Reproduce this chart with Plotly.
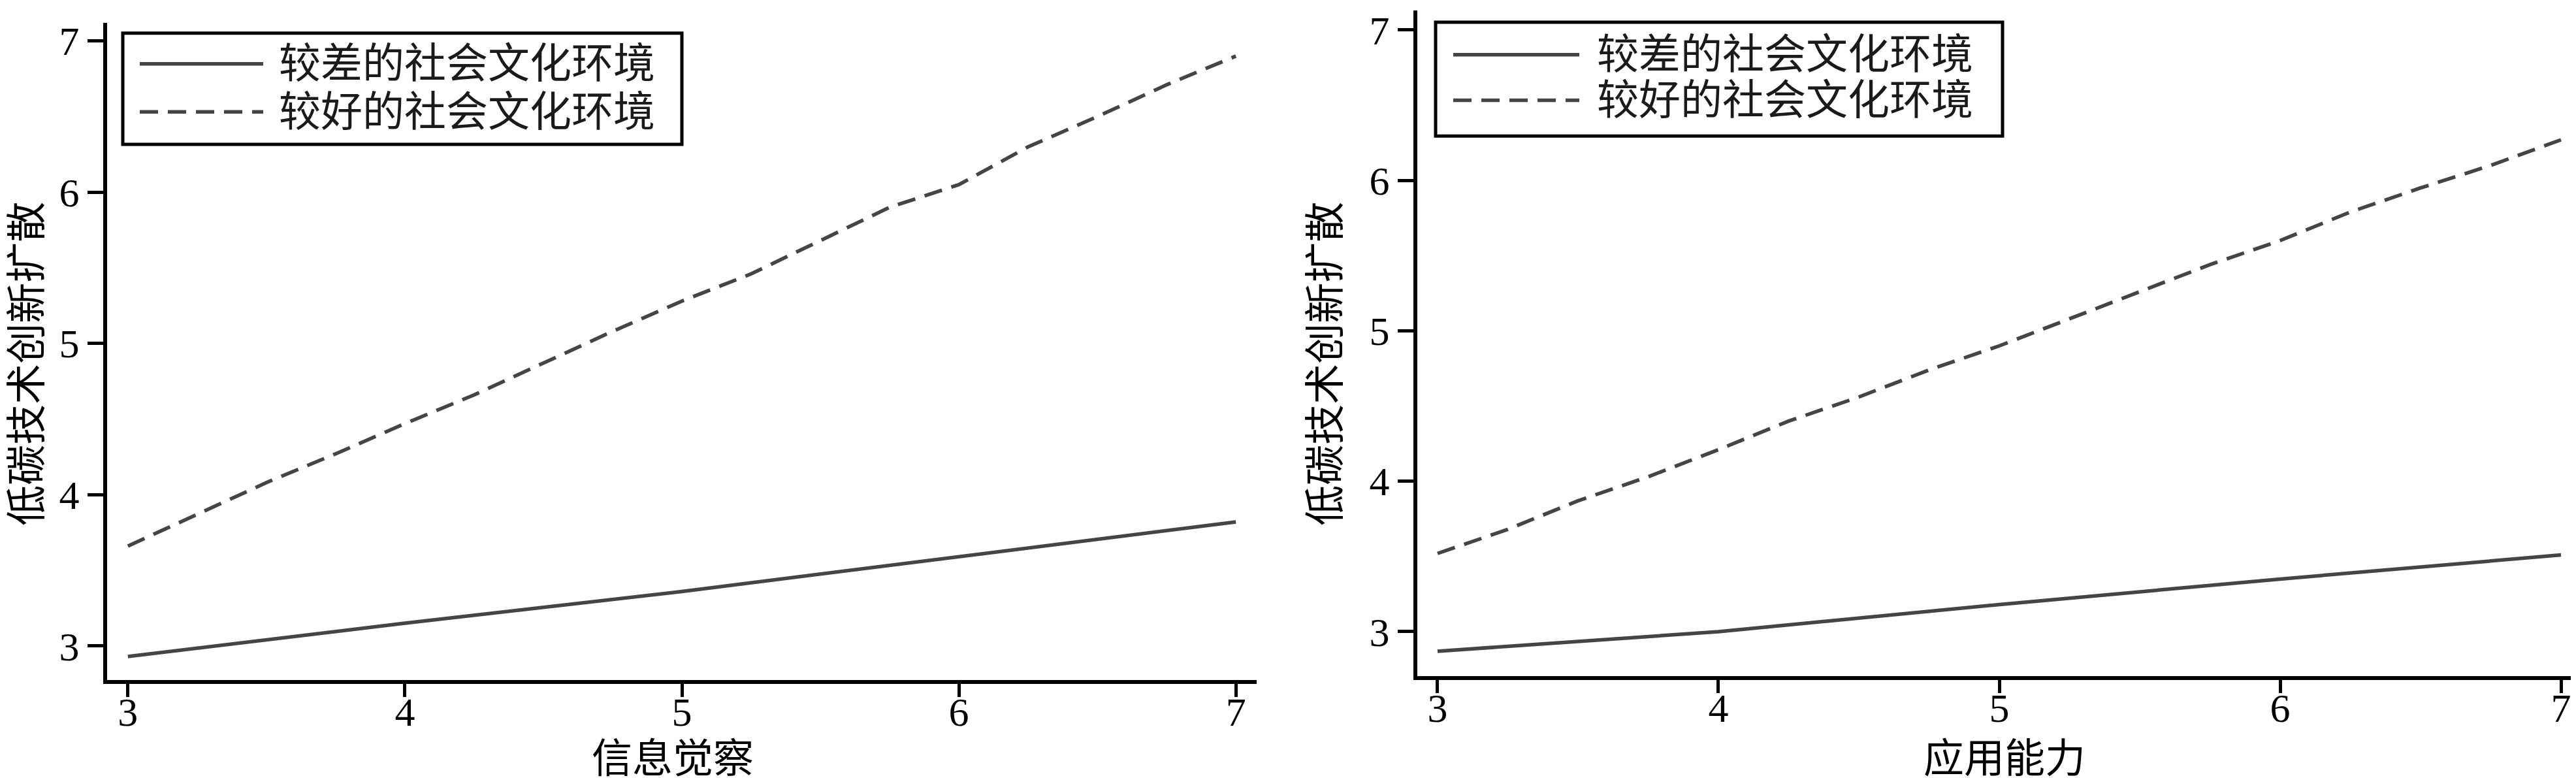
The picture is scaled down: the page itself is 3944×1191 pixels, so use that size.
import plotly.graph_objects as go

# ---- data ----
x_vals = [3.0, 3.25, 3.5, 3.75, 4.0, 4.25, 4.5, 4.75, 5.0, 5.25, 5.5, 5.75, 6.0, 6.25, 6.5, 6.75, 7.0]

# left panel: 信息觉察
left_poor_x = [3, 4, 5, 6, 7]
left_poor_y = [2.93, 3.15, 3.36, 3.59, 3.82]
left_good_y = [3.66, 3.87, 4.08, 4.27, 4.47, 4.66, 4.87, 5.08, 5.28, 5.46, 5.68, 5.90, 6.05, 6.30, 6.50, 6.71, 6.90]

# right panel: 应用能力
right_poor_x = [3, 4, 5, 6, 7]
right_poor_y = [2.87, 3.00, 3.18, 3.35, 3.51]
right_good_y = [3.52, 3.68, 3.87, 4.03, 4.21, 4.40, 4.56, 4.74, 4.90, 5.08, 5.26, 5.44, 5.60, 5.79, 5.95, 6.10, 6.27]

series_names = ["较差的社会文化环境", "较好的社会文化环境"]
x_titles = ["信息觉察", "应用能力"]
y_title = "低碳技术创新扩散"
tick_vals = [3, 4, 5, 6, 7]

W, H = 3944, 1191
FONT = "Liberation Serif, Noto Sans CJK SC, serif"
LINE_COLOR = "#454545"
LW = 5.5
DASH = "28px,15px"
DASHES = ["solid", DASH]


def px_x(p):
    return p / W


def px_y(p):
    return (H - p) / H


fig = go.Figure()

fig.add_trace(go.Scatter(x=left_poor_x, y=left_poor_y, mode="lines", name=series_names[0],
                         line=dict(color=LINE_COLOR, width=LW), xaxis="x", yaxis="y", showlegend=False))
fig.add_trace(go.Scatter(x=x_vals, y=left_good_y, mode="lines", name=series_names[1],
                         line=dict(color=LINE_COLOR, width=LW, dash=DASH), xaxis="x", yaxis="y", showlegend=False))
fig.add_trace(go.Scatter(x=right_poor_x, y=right_poor_y, mode="lines", name=series_names[0],
                         line=dict(color=LINE_COLOR, width=LW), xaxis="x2", yaxis="y2", showlegend=False))
fig.add_trace(go.Scatter(x=x_vals, y=right_good_y, mode="lines", name=series_names[1],
                         line=dict(color=LINE_COLOR, width=LW, dash=DASH), xaxis="x2", yaxis="y2", showlegend=False))

common_x = dict(tickmode="array", tickvals=tick_vals, ticks="outside", ticklen=20, tickwidth=5,
                tickcolor="black", showline=True, linewidth=6, linecolor="black", showgrid=False,
                zeroline=False, ticklabelstandoff=-30,
                tickfont=dict(family=FONT, size=62, color="black"))
common_y = dict(tickmode="array", tickvals=tick_vals, ticks="outside", ticklen=24, tickwidth=5,
                tickcolor="black", showline=True, linewidth=6, linecolor="black", showgrid=False,
                zeroline=False, tickangle=0, tickfont=dict(family=FONT, size=62, color="black"))

fig.update_layout(
    width=W, height=H,
    margin=dict(l=0, r=0, t=0, b=0),
    paper_bgcolor="white", plot_bgcolor="white",
    font=dict(family=FONT, color="black"),
    showlegend=False,
    xaxis=dict(domain=[px_x(156), px_x(1916)], range=[2.925, 7.075], anchor="y", **common_x),
    yaxis=dict(domain=[px_y(1032), px_y(22)], range=[2.776, 7.12], anchor="x", **common_y),
    xaxis2=dict(domain=[px_x(2162), 1.0], range=[2.928, 7.072], anchor="y2", **common_x),
    yaxis2=dict(domain=[px_y(1026), px_y(3)], range=[2.706, 7.13], anchor="x2", **common_y),
)

annotations = []
shapes = []

# axis titles
for cx, txt in [(1022, x_titles[0]), (3061, x_titles[1])]:
    annotations.append(dict(x=px_x(cx), y=0.001, xref="paper", yref="paper", text=txt,
                            showarrow=False, xanchor="center", yanchor="bottom",
                            font=dict(family=FONT, size=62, color="black")))
for cx, cy in [(34, 546), (2022, 546)]:
    annotations.append(dict(x=px_x(cx), y=px_y(cy), xref="paper", yref="paper", text=y_title,
                            showarrow=False, xanchor="center", yanchor="middle", textangle=-90,
                            font=dict(family=FONT, size=62, color="black")))

# legend boxes (drawn as a key for each panel)
legends = [
    dict(box=(180, 38, 1036, 209), sample=(206, 395), rows=(85, 159), text_x=417),
    dict(box=(2190, 21, 3058, 196), sample=(2217, 2410), rows=(71, 141), text_x=2435),
]
for lg in legends:
    x0, y0, x1, y1 = lg["box"]
    shapes.append(dict(type="rect", xref="paper", yref="paper",
                       x0=px_x(x0), x1=px_x(x1), y0=px_y(y1), y1=px_y(y0),
                       line=dict(color="black", width=5), fillcolor="white", layer="above"))
    for name, dash, ry in zip(series_names, DASHES, lg["rows"]):
        shapes.append(dict(type="line", xref="paper", yref="paper",
                           x0=px_x(lg["sample"][0]), x1=px_x(lg["sample"][1]),
                           y0=px_y(ry), y1=px_y(ry),
                           line=dict(color=LINE_COLOR, width=LW, dash=dash), layer="above"))
        annotations.append(dict(x=px_x(lg["text_x"]), y=px_y(ry), xref="paper", yref="paper",
                                text=name, showarrow=False, xanchor="left", yanchor="middle",
                                font=dict(family=FONT, size=64, color="#1a1a1a")))

fig.update_layout(annotations=annotations, shapes=shapes)

fig.write_html("out.html")
